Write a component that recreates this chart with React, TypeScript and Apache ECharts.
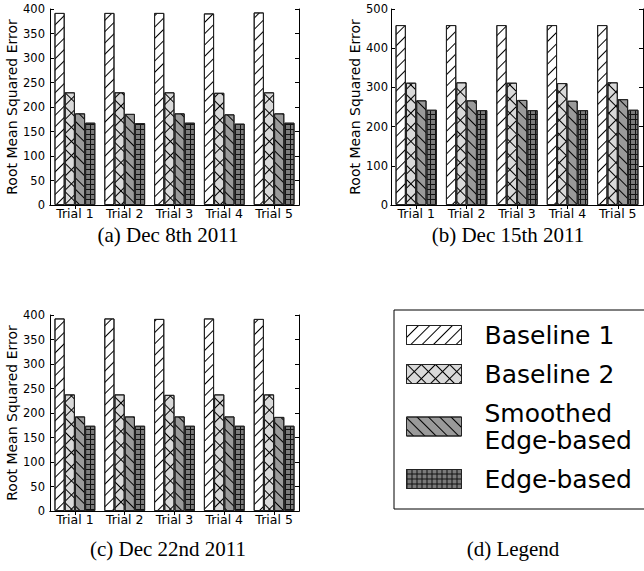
import React, { useEffect, useRef } from 'react';
import * as echarts from 'echarts';

const trials = ['Trial 1', 'Trial 2', 'Trial 3', 'Trial 4', 'Trial 5'];
const seriesNames = ['Baseline 1', 'Baseline 2', 'Smoothed Edge-based', 'Edge-based'];

// (a) Dec 8th 2011
const dec8Baseline1 = [392, 392, 392, 391, 393];
const dec8Baseline2 = [230, 230, 230, 229, 230];
const dec8Smoothed = [187, 186, 187, 185, 187];
const dec8Edge = [168, 167, 168, 166, 168];

// (b) Dec 15th 2011
const dec15Baseline1 = [459, 459, 459, 459, 459];
const dec15Baseline2 = [312, 313, 312, 311, 313];
const dec15Smoothed = [267, 267, 268, 266, 270];
const dec15Edge = [243, 242, 242, 242, 243];

// (c) Dec 22nd 2011
const dec22Baseline1 = [393, 393, 392, 393, 392];
const dec22Baseline2 = [238, 238, 237, 238, 238];
const dec22Smoothed = [193, 193, 193, 193, 192];
const dec22Edge = [174, 174, 174, 174, 174];

// y axis ticks: [max, interval]
const dec8YAxis = [400, 50];
const dec15YAxis = [500, 100];
const dec22YAxis = [400, 50];

const yAxisName = 'Root Mean Squared Error';
const captions = ['(a) Dec 8th 2011', '(b) Dec 15th 2011', '(c) Dec 22nd 2011', '(d) Legend'];

const SANS = 'DejaVu Sans';

// grid pattern rows: one solid row, then rows of single dots (vertical lines)
const gridRows = (period: number) => {
  const rows: number[][] = [[1, 0]];
  for (let i = 1; i < period; i++) rows.push([1, period - 1]);
  return rows;
};

const barStyles = [
  {
    color: '#ffffff',
    decal: { symbol: 'rect', symbolSize: 1, dashArrayX: [1, 0], dashArrayY: [1, 7], rotation: -Math.PI / 4, color: '#000' },
  },
  {
    color: '#d9d9d9',
    decal: { symbol: 'rect', symbolSize: 1, dashArrayX: gridRows(10), dashArrayY: [1, 0], rotation: Math.PI / 4, color: '#000' },
  },
  {
    color: '#9a9a9a',
    decal: { symbol: 'rect', symbolSize: 1, dashArrayX: [1, 0], dashArrayY: [1, 7], rotation: Math.PI / 4, color: '#000' },
  },
  {
    color: '#7a7a7a',
    decal: { symbol: 'rect', symbolSize: 1, dashArrayX: gridRows(5), dashArrayY: [1, 0], rotation: 0, color: '#111' },
  },
];

const panels = [
  { data: [dec8Baseline1, dec8Baseline2, dec8Smoothed, dec8Edge], yAxis: dec8YAxis, grid: { left: 50, top: 9, width: 249, height: 196 }, labelMargin: 5 },
  { data: [dec15Baseline1, dec15Baseline2, dec15Smoothed, dec15Edge], yAxis: dec15YAxis, grid: { left: 391, top: 9, width: 252, height: 196 }, labelMargin: 3 },
  { data: [dec22Baseline1, dec22Baseline2, dec22Smoothed, dec22Edge], yAxis: dec22YAxis, grid: { left: 50, top: 315, width: 249, height: 196 }, labelMargin: 5 },
];

const captionPos = [
  [168, 235],
  [508, 235],
  [168, 549],
  [513, 549],
];

export default function App() {
  const ref = useRef<HTMLDivElement>(null);
  useEffect(() => {
    if (!ref.current) return;
    const chart = echarts.init(ref.current, undefined, { renderer: 'svg' });
    const axisLine = { show: true, lineStyle: { color: '#000', width: 1 } };
    const grids: any[] = [];
    const xAxes: any[] = [];
    const yAxes: any[] = [];
    const series: any[] = [];
    panels.forEach((p, gi) => {
      grids.push({ ...p.grid, containLabel: false });
      xAxes.push({
        type: 'category', gridIndex: gi, position: 'bottom', data: trials,
        axisLine, axisTick: { show: false },
        axisLabel: { color: '#000', fontFamily: SANS, fontSize: 12.5, margin: 2, interval: 0, hideOverlap: false },
      });
      xAxes.push({
        type: 'category', gridIndex: gi, position: 'top', data: trials,
        axisLine, axisTick: { show: true, inside: true, alignWithLabel: true, interval: 0, length: 4, lineStyle: { color: '#000' } },
        axisLabel: { show: false, interval: 0 },
      });
      yAxes.push({
        type: 'value', gridIndex: gi, position: 'left', min: 0, max: p.yAxis[0], interval: p.yAxis[1],
        name: yAxisName, nameLocation: 'middle', nameGap: 26,
        nameTextStyle: { color: '#000', fontFamily: SANS, fontSize: 14 },
        axisLine, axisTick: { show: true, inside: true, length: 4, lineStyle: { color: '#000' } },
        axisLabel: { color: '#000', fontFamily: SANS, fontSize: 11.5, margin: p.labelMargin },
        splitLine: { show: false },
      });
      yAxes.push({
        type: 'value', gridIndex: gi, position: 'right', min: 0, max: p.yAxis[0], interval: p.yAxis[1],
        axisLine, axisTick: { show: true, inside: true, length: 4, lineStyle: { color: '#000' } },
        axisLabel: { show: false }, splitLine: { show: false },
      });
      p.data.forEach((vals, si) => {
        series.push({
          type: 'bar', name: seriesNames[si], xAxisIndex: gi * 2, yAxisIndex: gi * 2,
          data: vals, barGap: '0%', barCategoryGap: '18%',
          itemStyle: { color: barStyles[si].color, borderColor: '#222', borderWidth: 1, decal: barStyles[si].decal },
          emphasis: { disabled: true },
        });
      });
    });
    chart.setOption({
      animation: false,
      backgroundColor: '#fff',
      grid: grids,
      xAxis: xAxes,
      yAxis: yAxes,
      series,
      legend: {
        orient: 'vertical', left: 394, top: 310,
        data: seriesNames,
        icon: 'rect', itemWidth: 55, itemHeight: 19, itemGap: 12,
        padding: [11.5, 24, 16.5, 12],
        borderColor: '#000', borderWidth: 1, borderRadius: 0,
        selectedMode: false,
        formatter: (n: string) => (n === 'Smoothed Edge-based' ? 'Smoothed\nEdge-based' : n),
        textStyle: { fontFamily: SANS, fontSize: 25, lineHeight: 27, color: '#000', padding: [0, 0, 0, 18] },
        itemStyle: { borderColor: '#222', borderWidth: 1 },
      },
      graphic: captions.map((t, i) => ({
        type: 'text', x: captionPos[i][0], y: captionPos[i][1],
        style: { text: t, fontFamily: 'Liberation Serif', fontSize: 21, fill: '#000', textAlign: 'center', textVerticalAlign: 'middle' },
      })),
    });
    return () => chart.dispose();
  }, []);
  return <div ref={ref} style={{ position: 'fixed', left: 0, top: 0, width: 644, height: 571 }} />;
}
